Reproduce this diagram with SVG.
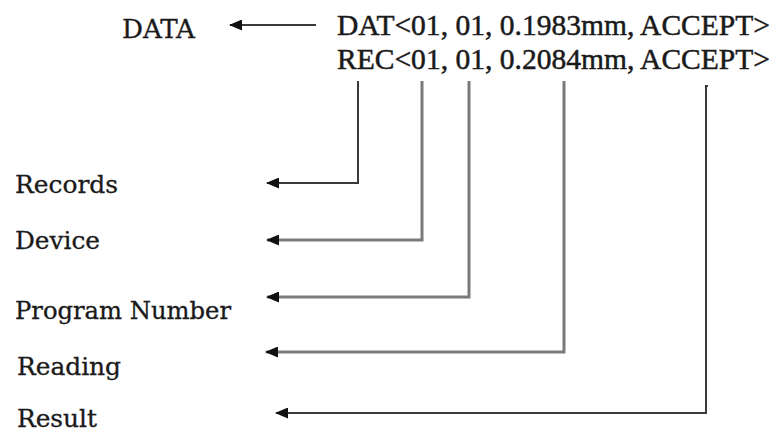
<svg xmlns="http://www.w3.org/2000/svg" width="777" height="432" viewBox="0 0 777 432">
<style>
text{font-family:"DejaVu Serif Condensed","DejaVu Serif","Liberation Serif",serif;fill:#1a1a1a;font-stretch:condensed;stroke:#1a1a1a;stroke-width:0.3}
text.m{font-family:"Liberation Serif","DejaVu Serif",serif;font-stretch:normal;stroke-width:0.5}
.c{fill:none;stroke:#3a3a3a;stroke-width:2;marker-end:url(#ah)}
.g{stroke:#7a7a7a;stroke-width:3}
</style>
<defs>
<marker id="ah" viewBox="0 0 13 11" refX="12" refY="5.5" markerWidth="13" markerHeight="11" markerUnits="userSpaceOnUse" orient="auto">
<path d="M0,0 L13,5.5 L0,11 z" fill="#111"/>
</marker>
</defs>
<g id="data"><text x="122" y="38" font-size="26" textLength="73" lengthAdjust="spacingAndGlyphs">DATA</text></g>
<g id="dat"><text class="m" x="337" y="35" font-size="30" textLength="433" lengthAdjust="spacingAndGlyphs">DAT&lt;01, 01, 0.1983mm, ACCEPT&gt;</text></g>
<g id="rec"><text class="m" x="337" y="69" font-size="30" textLength="433" lengthAdjust="spacingAndGlyphs">REC&lt;01, 01, 0.2084mm, ACCEPT&gt;</text></g>
<g id="records"><text x="15" y="193" font-size="25" textLength="103" lengthAdjust="spacingAndGlyphs">Records</text></g>
<g id="device"><text x="15" y="249" font-size="25" textLength="85" lengthAdjust="spacingAndGlyphs">Device</text></g>
<g id="program"><text x="15" y="319" font-size="24" textLength="216" lengthAdjust="spacingAndGlyphs">Program Number</text></g>
<g id="reading"><text x="17" y="375" font-size="25" textLength="104" lengthAdjust="spacingAndGlyphs">Reading</text></g>
<g id="result"><text x="17" y="427" font-size="25" textLength="80" lengthAdjust="spacingAndGlyphs">Result</text></g>
<g id="connectors">
<path class="c" d="M316,25 H230"/>
<path class="c" d="M358,81 V183 H267"/>
<path class="c g" d="M422,81 V240 H267"/>
<path class="c g" d="M469,81 V297 H267"/>
<path class="c g" d="M564,81 V352 H266"/>
<path class="c" d="M708,86 H706 V413 H276"/>
</g>
</svg>
